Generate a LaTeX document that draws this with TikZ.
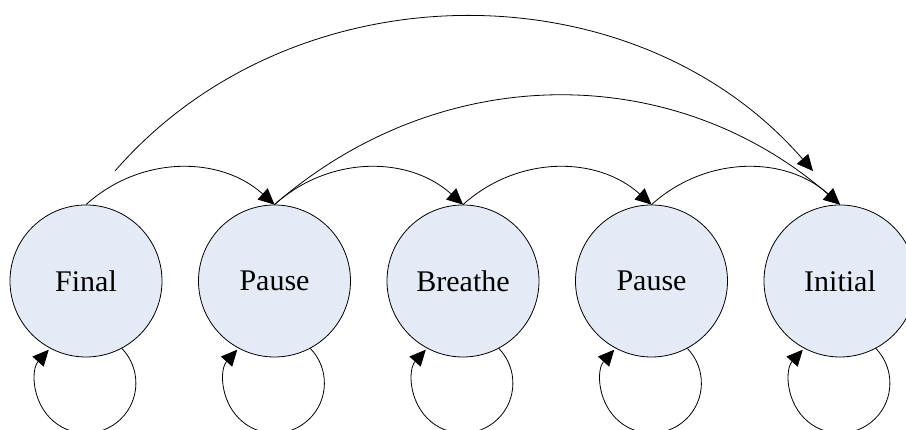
\documentclass[tikz,border=0pt]{standalone}
\usepackage{fontspec}
\setmainfont{Liberation Serif}
\usetikzlibrary{arrows.meta}
\definecolor{statefill}{RGB}{228,234,246}
\begin{document}
\begin{tikzpicture}[x=1pt,y=1pt,
  state/.style={circle,draw=black,line width=0.8pt,fill=statefill,
    minimum size=152pt,inner sep=0pt,font=\fontsize{30}{36}\selectfont},
  arr/.style={line width=0.8pt,-{Triangle[length=16pt,width=15pt]}},
]
\useasboundingbox (0,0) rectangle (906,430);
\clip (0,0) rectangle (906,430);

% states
\node[state] (final)   at (86,149)  {Final};
\node[state] (pauseA)  at (274.5,149) {Pause};
\node[state] (breathe) at (463,149) {Breathe};
\node[state] (pauseB)  at (651.5,149) {Pause};
\node[state] (initial) at (840,149) {Initial};

% free ends of the outer arc
\coordinate (outerS) at (115,259);
\coordinate (outerE) at (813,259);

% transitions between neighbours
\draw[arr] (final.90)   to[bend left=42] (pauseA.90);
\draw[arr] (pauseA.90)  to[bend left=42] (breathe.90);
\draw[arr] (breathe.90) to[bend left=42] (pauseB.90);
\draw[arr] (pauseB.90)  to[bend left=42] (initial.90);

% long transitions
\draw[arr] (pauseA.90) to[bend left=41] (initial.90);
\draw[arr] (outerS) to[bend left=49] (outerE);

% self loops: a circular arc below each state
\foreach \s in {final,pauseA,breathe,pauseB,initial}
  \draw[arr] (\s.-62) arc[start angle=44, end angle=-222, radius=50];
\end{tikzpicture}
\end{document}
